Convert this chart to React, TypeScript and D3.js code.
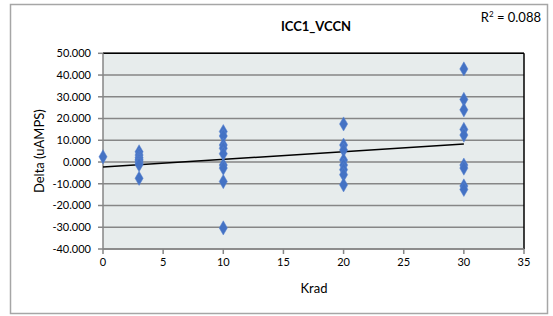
import React from "react";
import * as d3 from "d3";

const xKrad0 = [0];
const yKrad0 = [2.4];
const xKrad3 = [3, 3, 3, 3, 3, 3, 3, 3];
const yKrad3 = [4.7, 3.2, 2.0, 1.2, 0.5, -0.4, -1.2, -7.5];
const xKrad10 = [10, 10, 10, 10, 10, 10, 10, 10, 10];
const yKrad10 = [14.0, 12.0, 7.8, 6.3, 3.8, -1.4, -2.8, -9.0, -30.3];
const xKrad20 = [20, 20, 20, 20, 20, 20, 20, 20];
const yKrad20 = [17.5, 7.8, 5.5, 0.9, -1.4, -3.5, -5.8, -10.5];
const xKrad30 = [30, 30, 30, 30, 30, 30, 30, 30, 30];
const yKrad30 = [42.8, 28.8, 24.0, 15.0, 12.4, -1.4, -2.8, -11.0, -12.6];

const xTicks = [0, 5, 10, 15, 20, 25, 30, 35];
const yTicks = [-40, -30, -20, -10, 0, 10, 20, 30, 40, 50];
const title = "ICC1_VCCN";
const xLabel = "Krad";
const yLabel = "Delta (uAMPS)";
const r2Label = "0.088";

export default function App() {
  const W = 553, H = 316;
  const left = 103, right = 524, top = 53.3, bottom = 249;
  const x = d3.scaleLinear().domain([0, 35]).range([left, right]);
  const y = d3.scaleLinear().domain([-40, 50]).range([bottom, top]);

  const xs = [...xKrad0, ...xKrad3, ...xKrad10, ...xKrad20, ...xKrad30];
  const ys = [...yKrad0, ...yKrad3, ...yKrad10, ...yKrad20, ...yKrad30];
  const mx = d3.mean(xs)!, my = d3.mean(ys)!;
  let sxy = 0, sxx = 0;
  xs.forEach((v, i) => { sxy += (v - mx) * (ys[i] - my); sxx += (v - mx) ** 2; });
  const slope = sxy / sxx;
  const icpt = my - slope * mx;
  const xmin = d3.min(xs)!, xmax = d3.max(xs)!;
  const line = d3.line<number>().x(d => x(d)).y(d => y(icpt + slope * d))([xmin, xmax]) || "";

  const font = "Lato, 'Open Sans', sans-serif";
  const diamond = d3.symbol().type(d3.symbolDiamond).size(58)() || "";

  return (
    <svg width={W} height={H} style={{ position: "absolute", left: 0, top: 0 }} fontFamily={font}>
      <rect x={0} y={0} width={W} height={H} fill="#fff" />
      <rect x={10.5} y={4.5} width={537} height={309} fill="#fff" stroke="#a6a6a6" strokeWidth={1.5} />
      <rect x={left} y={top} width={right - left} height={bottom - top} fill="#e7ecec" />
      {yTicks.map(t => (
        <line key={"g" + t} x1={left} x2={right} y1={y(t)} y2={y(t)} stroke="#868686" strokeWidth={1.5} />
      ))}
      <line x1={left} x2={right} y1={top} y2={top} stroke="#000" strokeWidth={1.5} />
      <line x1={right} x2={right} y1={top} y2={bottom} stroke="#000" strokeWidth={1.5} />
      <line x1={left} x2={left} y1={top} y2={bottom} stroke="#868686" strokeWidth={1.5} />
      <line x1={left} x2={right} y1={bottom} y2={bottom} stroke="#868686" strokeWidth={1.5} />
      {yTicks.map(t => (
        <g key={"y" + t}>
          <line x1={left - 5} x2={left} y1={y(t)} y2={y(t)} stroke="#868686" strokeWidth={1.5} />
          <text x={91} y={y(t)} dy="0.35em" textAnchor="end" fontSize={11} fill="#000">
            {d3.format(".3f")(t).replace("−", "-")}
          </text>
        </g>
      ))}
      {xTicks.map(t => (
        <g key={"x" + t}>
          <line x1={x(t)} x2={x(t)} y1={bottom} y2={bottom + 5} stroke="#868686" strokeWidth={1.5} />
          <text x={x(t)} y={266} textAnchor="middle" fontSize={11} fill="#000">{t}</text>
        </g>
      ))}
      <path d={line} stroke="#000" strokeWidth={1.5} fill="none" />
      {xs.map((v, i) => (
        <path key={"p" + i} d={diamond} transform={`translate(${x(v)},${y(ys[i])})`} fill="#4472c4" stroke="#5b84d0" strokeWidth={0.5} />
      ))}
      <text x={316} y={31} textAnchor="middle" fontSize={13} fontWeight="bold">{title}</text>
      <text x={314} y={293} textAnchor="middle" fontSize={13}>{xLabel}</text>
      <text transform={`translate(44,${(top + bottom) / 2}) rotate(-90)`} textAnchor="middle" fontSize={13}>{yLabel}</text>
      <text x={541} y={22} textAnchor="end" fontSize={13}>
        R<tspan dy={-5} fontSize={8}>2</tspan><tspan dy={5}>{" = " + r2Label}</tspan>
      </text>
    </svg>
  );
}
